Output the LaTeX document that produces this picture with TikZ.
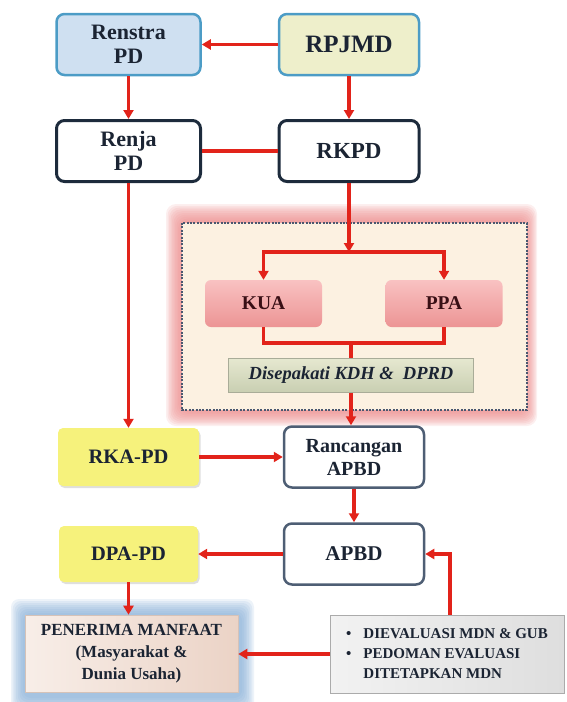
\documentclass[tikz,border=0pt]{standalone}
\usepackage{fontspec}
\setmainfont{Liberation Serif}
\usetikzlibrary{arrows.meta,shadows}

\definecolor{arrowred}{HTML}{E2231A}
\definecolor{inkdark}{HTML}{1B2433}
\definecolor{renstrafill}{HTML}{CFE0F1}
\definecolor{tealedge}{HTML}{4C9CC6}
\definecolor{rpjmdfill}{HTML}{EEEFCB}
\definecolor{navyedge}{HTML}{1D2B3C}
\definecolor{slateedge}{HTML}{4E5E74}
\definecolor{yellowfill}{HTML}{F6F27C}
\definecolor{pinktop}{HTML}{F9C2C2}
\definecolor{pinkbot}{HTML}{EC9494}
\definecolor{glowpink}{HTML}{EC8C8C}
\definecolor{beigefill}{HTML}{FCF1E1}
\definecolor{dotedge}{HTML}{4A5870}
\definecolor{agreetop}{HTML}{E6E8D0}
\definecolor{agreebot}{HTML}{C9CFB2}
\definecolor{agreeedge}{HTML}{A9AC98}
\definecolor{glowblue}{HTML}{7FA9D4}
\definecolor{manfaatleft}{HTML}{F8EEE8}
\definecolor{manfaatright}{HTML}{EBD3C6}
\definecolor{evalleft}{HTML}{F2F2F2}
\definecolor{evalright}{HTML}{DEDEDE}
\definecolor{evaledge}{HTML}{ABABAB}

\tikzset{
  stagebox/.style={rounded corners=8pt, minimum width=140pt, minimum height=61pt,
    align=center, text=inkdark, inner sep=2pt,
    font=\fontsize{22}{24}\selectfont\bfseries},
  planbox/.style={stagebox, draw=tealedge, line width=2.5pt},
  workbox/.style={stagebox, draw=navyedge, line width=3pt, fill=white},
  budgetbox/.style={stagebox, draw=slateedge, line width=2.5pt, fill=white,
    font=\fontsize{20}{23}\selectfont\bfseries},
  unitbox/.style={stagebox, fill=yellowfill, rounded corners=5pt,
    minimum width=141pt, minimum height=58pt,
    font=\fontsize{20.5}{23}\selectfont\bfseries,
    drop shadow={opacity=0.25, shadow xshift=1.5pt, shadow yshift=-2pt}},
  policybox/.style={stagebox, rounded corners=6pt, minimum width=117pt,
    minimum height=47pt, top color=pinktop, bottom color=pinkbot,
    text=inkdark!70!red!60!black,
    font=\fontsize{19.5}{22}\selectfont\bfseries},
  agreebox/.style={stagebox, rounded corners=0pt, minimum width=245pt,
    minimum height=34pt, top color=agreetop, bottom color=agreebot,
    draw=agreeedge, line width=1pt,
    font=\fontsize{18.5}{21}\selectfont\bfseries\itshape},
  flow/.style={draw=arrowred, line width=3.2pt, -{Triangle[length=9pt,width=10pt]}},
  link/.style={draw=arrowred, line width=3.2pt},
}

\begin{document}
\begin{tikzpicture}[x=1pt,y=-1pt]
    \useasboundingbox (0,0) rectangle (566,702);

    % KUA / PPA region with pink glow
    \foreach \g in {0,...,9} {
        \fill [glowpink,opacity=0.14,rounded corners=10pt]
            (166+\g*1.5,204+\g*1.8) rectangle (537-\g*1.2,426-\g*1.5);
    }
    \filldraw [fill=beigefill,draw=dotedge,line width=2pt,dash pattern=on 2pt off 1.4pt]
        (182,223) rectangle (527,410);

    % glow round the beneficiary box
    \foreach \g in {0,...,7} {
        \fill [glowblue,opacity=0.14,rounded corners=8pt]
            (11+\g*1.7,599+\g*2) rectangle (254-\g*1.7,712-\g*2);
    }

    % planning documents
    \node [planbox,fill=renstrafill,minimum width=144pt] (renstra) at (128.5,44.5) {Renstra\\PD};
    \node [planbox,fill=rpjmdfill,font=\fontsize{25}{28}\selectfont\bfseries] (rpjmd) at (349,44.5) {RPJMD};
    \node [workbox,minimum width=144pt] (renja) at (128.5,151) {Renja\\PD};
    \node [workbox,font=\fontsize{23}{26}\selectfont\bfseries] (rkpd) at (349,151) {RKPD};

    % budget policy
    \node [policybox] (kua) at (263.5,303.5) {KUA};
    \node [policybox] (ppa) at (444,303.5) {PPA};
    \node [agreebox] (agree) at (351,375) {Disepakati KDH \&\ \ DPRD};

    % budget documents
    \node [unitbox] (rkapd) at (128.5,457) {RKA-PD};
    \node [budgetbox] (rancangan) at (354,457) {Rancangan\\APBD};
    \node [unitbox,minimum width=139pt,minimum height=56pt] (dpapd) at (128.5,554) {DPA-PD};
    \node [budgetbox,font=\fontsize{21}{24}\selectfont\bfseries] (apbd) at (354,554) {APBD};

    \node [draw=manfaatright!80!gray,line width=0.6pt,left color=manfaatleft,right color=manfaatright,
           minimum width=213pt,minimum height=77pt,align=center,text=inkdark,inner sep=2pt,
           font=\fontsize{17}{22}\selectfont\bfseries] (manfaat) at (131.5,653.5)
        {PENERIMA MANFAAT\\(Masyarakat \&\\Dunia Usaha)};
    \node [draw=evaledge,line width=0.8pt,left color=evalleft,right color=evalright,
           minimum width=234pt,minimum height=78pt,text=inkdark,inner sep=2pt,
           font=\fontsize{15}{20}\selectfont\bfseries] (eval) at (447,654)
        {\begin{tabular}{@{}l@{\hspace{12pt}}l@{}}
            • & DIEVALUASI MDN \& GUB\\
            • & PEDOMAN EVALUASI\\
              & DITETAPKAN MDN
         \end{tabular}};

    % connectors
    \draw [flow] (rpjmd) -- (renstra);
    \draw [flow] (renstra) -- (renja);
    \draw [flow] (rpjmd) -- (rkpd);
    \draw [link] (renja) -- (rkpd);
    \draw [flow] (renja) -- (rkapd);

    \coordinate (split) at (349,252);
    \coordinate (merge) at (351,343);
    \draw [flow] (rkpd) -- (split);
    \draw [flow] (split) -| (kua.north);
    \draw [flow] (split) -| (ppa.north);
    \draw [link] (kua.south) |- (merge) -| (ppa.south);
    \draw [link] (merge) -- (agree.north);
    \draw [flow] (agree.south) -- (agree.south |- rancangan.north);

    \draw [flow] (rkapd) -- (rancangan);
    \draw [flow] (rancangan) -- (apbd);
    \draw [flow] (apbd) -- (dpapd);
    \draw [flow] (dpapd) -- (dpapd |- manfaat.north);
    \draw [flow] ([xshift=3pt]eval.north) |- (apbd.east);
    \draw [flow] (eval.west) -- (eval.west -| manfaat.east);
\end{tikzpicture}
\end{document}
